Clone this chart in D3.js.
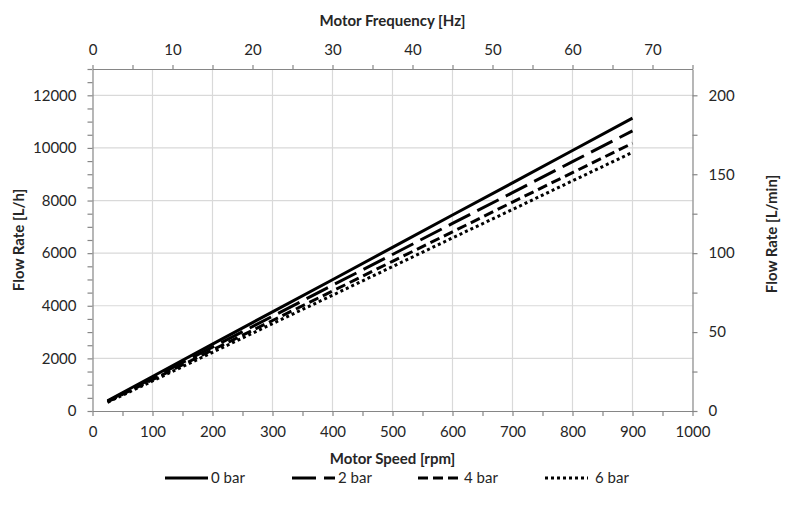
<!DOCTYPE html>
<html>
<head>
<meta charset="utf-8">
<script src="https://cdn.jsdelivr.net/npm/d3@7"></script>
<style>
  body { margin: 0; background: #fff; }
  svg text { font-family: Lato, "Open Sans", sans-serif; fill: #262626; }
  .tick text { font-size: 15px; }
  .axis path { stroke: #868686; }
  .axis line { stroke: #868686; }
  .title { font-size: 15px; font-weight: bold; }
  .legend text { font-size: 15px; }
</style>
</head>
<body>
<div id="chart"></div>
<script>
// chart data: motor speed [rpm] vs flow rate [L/h] for four pressures
const speeds = [25, 100, 200, 300, 400, 500, 600, 700, 800, 900];
const flow0bar = [390, 1310, 2540, 3770, 4990, 6220, 7450, 8670, 9900, 11130];
const flow2bar = [370, 1250, 2430, 3600, 4780, 5950, 7130, 8300, 9480, 10650];
const flow4bar = [350, 1190, 2320, 3440, 4560, 5690, 6810, 7940, 9060, 10180];
const flow6bar = [330, 1140, 2230, 3320, 4400, 5490, 6580, 7660, 8750, 9830];
const seriesNames = ["0 bar", "2 bar", "4 bar", "6 bar"];

const rpmTicks = d3.range(0, 1001, 50);
const hzTicks = d3.range(0, 76, 5);
const lhTicks = d3.range(0, 13001, 500);
const lminTicks = d3.range(0, 216, 25);

const svgWidth = 800;
const svgHeight = 509;
const margin = { top: 69, right: 107.5, bottom: 98, left: 92.5 };
const chartWidth = svgWidth - margin.left - margin.right;
const chartHeight = svgHeight - margin.top - margin.bottom;

const svg = d3.select("#chart")
  .append("svg")
  .attr("width", svgWidth)
  .attr("height", svgHeight);

const chartGroup = svg.append("g")
  .attr("transform", `translate(${margin.left}, ${margin.top})`);

// scales (bottom rpm, top Hz, left L/h, right L/min)
const xRpm = d3.scaleLinear().domain([0, 1000]).range([0, chartWidth]);
const xHz = d3.scaleLinear().domain([0, 75]).range([0, chartWidth]);
const yLh = d3.scaleLinear().domain([0, 13000]).range([chartHeight, 0]);
const yLmin = d3.scaleLinear().domain([0, 13000 / 60]).range([chartHeight, 0]);

// gridlines
chartGroup.append("g")
  .selectAll("line")
  .data(d3.range(100, 1000, 100))
  .enter()
  .append("line")
  .attr("x1", d => xRpm(d)).attr("x2", d => xRpm(d))
  .attr("y1", 0).attr("y2", chartHeight)
  .attr("stroke", "#d9d9d9").attr("stroke-width", 1.2);

chartGroup.append("g")
  .selectAll("line")
  .data(d3.range(2000, 13000, 2000))
  .enter()
  .append("line")
  .attr("x1", 0).attr("x2", chartWidth)
  .attr("y1", d => yLh(d)).attr("y2", d => yLh(d))
  .attr("stroke", "#d9d9d9").attr("stroke-width", 1.2);

// axes
const bottomAxis = d3.axisBottom(xRpm).tickValues(rpmTicks)
  .tickFormat(d => d % 100 === 0 ? d : "").tickSize(5).tickSizeOuter(0).tickPadding(10);
const topAxis = d3.axisTop(xHz).tickValues(hzTicks)
  .tickFormat(d => d % 10 === 0 ? d : "").tickSize(4).tickSizeOuter(0).tickPadding(10);
const leftAxis = d3.axisLeft(yLh).tickValues(lhTicks)
  .tickFormat(d => d % 2000 === 0 ? d : "").tickSize(5).tickSizeOuter(0).tickPadding(11);
const rightAxis = d3.axisRight(yLmin).tickValues(lminTicks)
  .tickFormat(d => d % 50 === 0 ? d : "").tickSize(5).tickSizeOuter(0).tickPadding(11);

chartGroup.append("g").attr("class", "axis")
  .attr("transform", `translate(0, ${chartHeight})`).call(bottomAxis);
chartGroup.append("g").attr("class", "axis").call(topAxis);
chartGroup.append("g").attr("class", "axis").call(leftAxis);
chartGroup.append("g").attr("class", "axis")
  .attr("transform", `translate(${chartWidth}, 0)`).call(rightAxis);

chartGroup.selectAll(".axis .domain").attr("stroke-width", 1.2);
chartGroup.selectAll(".axis .tick line").attr("stroke-width", 1.2);

// lines
const allSeries = [flow0bar, flow2bar, flow4bar, flow6bar];
const dashes = [null, "24,8", "10,5", "3,3"];

const lineGen = d3.line()
  .x(d => xRpm(d[0]))
  .y(d => yLh(d[1]));

chartGroup.selectAll(".flowline")
  .data(allSeries)
  .enter()
  .append("path")
  .attr("class", "flowline")
  .attr("fill", "none")
  .attr("stroke", "#000")
  .attr("stroke-width", 3)
  .attr("stroke-dasharray", (d, i) => dashes[i])
  .attr("d", d => lineGen(speeds.map((s, i) => [s, d[i]])));

// axis titles
svg.append("text").attr("class", "title")
  .attr("x", margin.left + chartWidth / 2).attr("y", 26)
  .attr("text-anchor", "middle")
  .text("Motor Frequency [Hz]");

svg.append("text").attr("class", "title")
  .attr("x", margin.left + chartWidth / 2).attr("y", 464)
  .attr("text-anchor", "middle")
  .text("Motor Speed [rpm]");

svg.append("text").attr("class", "title")
  .attr("transform", "translate(24, 240) rotate(-90)")
  .attr("text-anchor", "middle")
  .text("Flow Rate [L/h]");

svg.append("text").attr("class", "title")
  .attr("transform", "translate(777, 234) rotate(-90)")
  .attr("text-anchor", "middle")
  .text("Flow Rate [L/min]");

// legend
const legendX = [165, 292, 418, 545];
const legend = svg.append("g").attr("class", "legend");
seriesNames.forEach((name, i) => {
  const g = legend.append("g").attr("transform", `translate(${legendX[i]}, 478)`);
  g.append("line")
    .attr("x1", 0).attr("x2", 43).attr("y1", 0).attr("y2", 0)
    .attr("stroke", "#000").attr("stroke-width", 3)
    .attr("stroke-dasharray", dashes[i]);
  g.append("text")
    .attr("x", i === 3 ? 50 : 46).attr("y", 5)
    .text(name);
});
</script>
</body>
</html>
